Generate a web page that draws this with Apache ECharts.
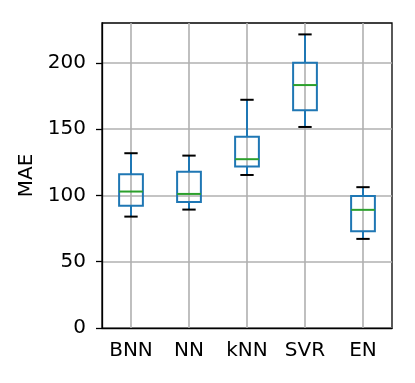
<!DOCTYPE html>
<html>
<head>
<meta charset="utf-8">
<script src="https://cdn.jsdelivr.net/npm/echarts@6/dist/echarts.min.js"></script>
<style>
  html, body { margin: 0; padding: 0; background: #fff; }
  #maeChart { width: 415px; height: 383px; }
</style>
</head>
<body>
<div id="maeChart"></div>
<script>
// data
var categories = ['BNN', 'NN', 'kNN', 'SVR', 'EN'];
var whiskerLow = [84.0, 89.3, 115.4, 151.6, 67.2];
var q1 = [92.1, 95.1, 121.7, 164.2, 73.0];
var median = [102.9, 101.1, 127.3, 183.2, 89.1];
var q3 = [116.0, 117.9, 144.3, 200.0, 99.6];
var whiskerHigh = [131.8, 130.0, 172.1, 221.4, 106.2];
var yTicks = [0, 50, 100, 150, 200];

var Y_MAX = 230;

function drawBox(params, api) {
    var i = api.value(0);
    var band = api.size([1, 0])[0];
    var boxHalf = band * 0.205;
    var capHalf = band * 0.115;
    var low = api.coord([i, api.value(1)]);
    var p1 = api.coord([i, api.value(2)]);
    var med = api.coord([i, api.value(3)]);
    var p3 = api.coord([i, api.value(4)]);
    var high = api.coord([i, api.value(5)]);
    var gridTop = api.coord([i, Y_MAX]);
    var gridBottom = api.coord([i, 0]);
    var x = low[0];
    var blue = { stroke: '#1f77b4', lineWidth: 2, fill: null };
    var black = { stroke: '#000', lineWidth: 2 };
    return {
        type: 'group',
        children: [
            // vertical grid line at the category
            { type: 'line', shape: { x1: x, y1: gridTop[1], x2: x, y2: gridBottom[1] },
              style: { stroke: '#b0b0b0', lineWidth: 1.6 }, z2: 0 },
            { type: 'line', shape: { x1: x, y1: low[1], x2: x, y2: p1[1] }, style: blue, z2: 1 },
            { type: 'line', shape: { x1: x, y1: p3[1], x2: x, y2: high[1] }, style: blue, z2: 1 },
            { type: 'line', shape: { x1: x - capHalf, y1: low[1], x2: x + capHalf, y2: low[1] }, style: black, z2: 2 },
            { type: 'line', shape: { x1: x - capHalf, y1: high[1], x2: x + capHalf, y2: high[1] }, style: black, z2: 2 },
            { type: 'rect', shape: { x: x - boxHalf, y: p3[1], width: boxHalf * 2, height: p1[1] - p3[1] },
              style: blue, z2: 2 },
            { type: 'line', shape: { x1: x - boxHalf, y1: med[1], x2: x + boxHalf, y2: med[1] },
              style: { stroke: '#2ca02c', lineWidth: 2 }, z2: 3 }
        ]
    };
}

var myChart = echarts.init(document.getElementById('maeChart'));

var option = {
    animation: false,
    textStyle: { fontFamily: 'DejaVu Sans' },
    grid: {
        left: 102, right: 23, top: 23, bottom: 55,
        show: true, borderColor: '#000', borderWidth: 1.3, backgroundColor: 'transparent'
    },
    xAxis: {
        type: 'category',
        data: categories,
        axisLine: { lineStyle: { color: '#000', width: 1.3 } },
        axisTick: { alignWithLabel: true, length: 6, lineStyle: { color: '#000', width: 1.3 } },
        axisLabel: { color: '#000', fontSize: 20, margin: 13 },
        splitLine: { show: false }
    },
    yAxis: {
        type: 'value',
        min: 0,
        max: Y_MAX,
        name: 'MAE',
        nameLocation: 'middle',
        nameGap: 56,
        nameTextStyle: { color: '#000', fontSize: 20 },
        axisLine: { show: true, lineStyle: { color: '#000', width: 1.3 } },
        axisTick: { show: true, length: 6, customValues: yTicks, lineStyle: { color: '#000', width: 1.3 } },
        axisLabel: { color: '#000', fontSize: 20, margin: 16, customValues: yTicks },
        splitLine: { show: true, lineStyle: { color: '#b0b0b0', width: 1.6 } }
    },
    series: [{
        type: 'custom',
        renderItem: drawBox,
        encode: { x: 0, y: [1, 2, 3, 4, 5] },
        data: categories.map(function (c, i) {
            return [i, whiskerLow[i], q1[i], median[i], q3[i], whiskerHigh[i]];
        })
    }]
};

myChart.setOption(option);
</script>
</body>
</html>
